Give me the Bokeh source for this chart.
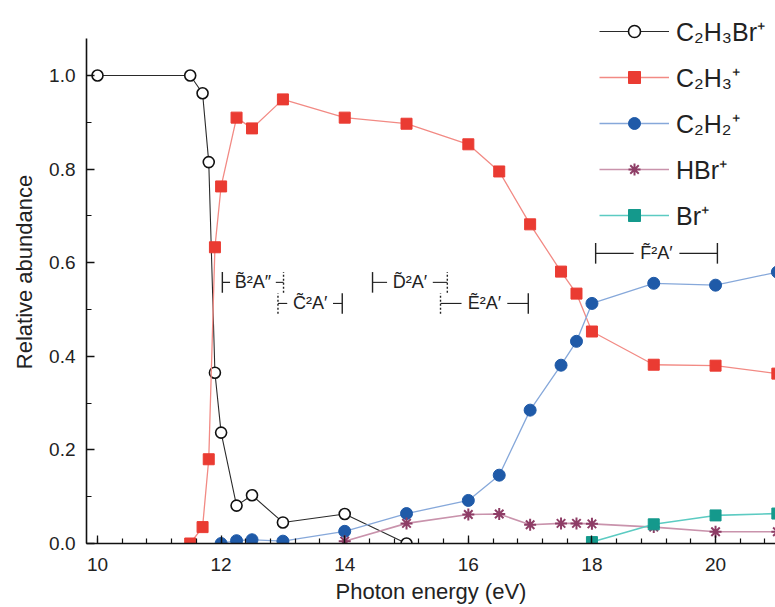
from bokeh.plotting import figure
from bokeh.models import (ColumnDataSource, Legend, LegendItem, SingleIntervalTicker,
                          Range1d, NumeralTickFormatter)
from bokeh.embed import file_html
from bokeh.resources import INLINE
from bokeh.core.properties import value

# ---------------- data ----------------
e_c2h3br = [10, 11.5, 11.7, 11.8, 11.9, 12.0, 12.25, 12.5, 13, 14, 15]
y_c2h3br = [1.0, 1.0, 0.962, 0.815, 0.365, 0.237, 0.081, 0.103, 0.045, 0.063, 0.0]

e_c2h3 = [11.5, 11.7, 11.8, 11.9, 12.0, 12.25, 12.5, 13, 14, 15, 16, 16.5, 17, 17.5, 17.75, 18, 19, 20, 21]
y_c2h3 = [0.0, 0.035, 0.18, 0.633, 0.763, 0.91, 0.887, 0.949, 0.91, 0.897, 0.853, 0.795, 0.682, 0.581,
          0.534, 0.453, 0.382, 0.38, 0.363]

e_c2h2 = [12.0, 12.25, 12.5, 13, 14, 15, 16, 16.5, 17, 17.5, 17.75, 18, 19, 20, 21]
y_c2h2 = [0.0, 0.006, 0.008, 0.005, 0.026, 0.064, 0.092, 0.146, 0.285, 0.381, 0.432, 0.513, 0.556, 0.552, 0.58]

e_hbr = [14, 15, 16, 16.5, 17, 17.5, 17.75, 18, 19, 20, 21]
y_hbr = [0.005, 0.043, 0.062, 0.063, 0.04, 0.043, 0.043, 0.042, 0.035, 0.025, 0.025]

e_br = [18, 19, 20, 21]
y_br = [0.003, 0.041, 0.06, 0.064]

series_labels = ["C₂H₃Br⁺", "C₂H₃⁺", "C₂H₂⁺", "HBr⁺", "Br⁺"]

states = ["B\u0303²A″", "C\u0303²A′", "D\u0303²A′", "E\u0303²A′", "F\u0303²A′"]
state_lo = [12.02, 12.92, 14.45, 15.55, 18.06]
state_hi = [13.01, 13.96, 15.66, 16.97, 20.03]
state_y = [0.558, 0.513, 0.558, 0.513, 0.62]
state_lo_dotted = [False, True, False, True, False]
state_hi_dotted = [True, False, True, False, False]

FONT = "Liberation Sans"

p = figure(width=775, height=607, output_backend="svg", toolbar_location=None,
           x_range=Range1d(9.822, 20.97), y_range=Range1d(0, 1.1603),
           min_border_left=86, min_border_right=0, min_border_top=0, min_border_bottom=64)
p.outline_line_color = None
p.grid.visible = False
p.background_fill_color = "white"
p.border_fill_color = "white"

# axes
p.xaxis.ticker = SingleIntervalTicker(interval=2, num_minor_ticks=5)
p.yaxis.ticker = SingleIntervalTicker(interval=0.2, num_minor_ticks=2)
p.yaxis.formatter = NumeralTickFormatter(format="0.0")
p.yaxis.bounds = (0, 1.08)
for ax in (p.xaxis, p.yaxis):
    ax.axis_line_width = 1.6
    ax.axis_line_color = "#111111"
    ax.major_tick_in = 8
    ax.major_tick_out = 0
    ax.minor_tick_in = 5
    ax.minor_tick_out = 0
    ax.major_tick_line_color = "#111111"
    ax.minor_tick_line_color = "#111111"
    ax.major_tick_line_width = 1.3
    ax.minor_tick_line_width = 1.2
    ax.major_label_text_font = FONT
    ax.major_label_text_font_size = "19px"
    ax.major_label_text_color = "#222222"
    ax.axis_label_text_font = FONT
    ax.axis_label_text_font_size = "22px"
    ax.axis_label_text_font_style = "normal"
    ax.axis_label_text_color = "#222222"
p.xaxis.axis_label = "Photon energy (eV)"
p.yaxis.axis_label = "Relative abundance"
p.xaxis.major_label_standoff = 14
p.xaxis.axis_label_standoff = 5
p.yaxis.major_label_standoff = 11
p.yaxis.axis_label_standoff = 9

# series
r1l = p.line(e_c2h3br, y_c2h3br, line_color="#2a2a2a", line_width=1.1)
r1m = p.scatter(e_c2h3br, y_c2h3br, marker="circle", size=11, fill_color="white",
                line_color="#111111", line_width=1.6)

r2l = p.line(e_c2h3, y_c2h3, line_color="#F28A84", line_width=1.3)
r2m = p.scatter(e_c2h3, y_c2h3, marker="square", size=11, fill_color="#EA3B32",
                line_color="#EA3B32")

r3l = p.line(e_c2h2, y_c2h2, line_color="#86A8DA", line_width=1.3)
r3m = p.scatter(e_c2h2, y_c2h2, marker="circle", size=12, fill_color="#1F5AA8",
                line_color="#1F5AA8")

r4l = p.line(e_hbr, y_hbr, line_color="#C993AC", line_width=1.6)
r4m = p.scatter(e_hbr, y_hbr, marker="asterisk", size=12, line_color="#8E3D66",
                line_width=2)

r5l = p.line(e_br, y_br, line_color="#5CCBC2", line_width=1.6)
r5m = p.scatter(e_br, y_br, marker="square", size=11, fill_color="#14998C",
                line_color="#14998C")

items = [LegendItem(label=series_labels[0], renderers=[r1l, r1m]),
         LegendItem(label=series_labels[1], renderers=[r2l, r2m]),
         LegendItem(label=series_labels[2], renderers=[r3l, r3m]),
         LegendItem(label=series_labels[3], renderers=[r4l, r4m]),
         LegendItem(label=series_labels[4], renderers=[r5l, r5m])]
legend = Legend(items=items, location=(513, 311), orientation="vertical",
                glyph_width=70, glyph_height=30, label_height=30, spacing=12,
                padding=5, margin=0, label_standoff=7,
                label_text_font=FONT, label_text_font_size="25px",
                label_text_color="#222222",
                border_line_color=None, background_fill_alpha=0)
p.add_layout(legend)

# electronic state annotations
gap = 0.37
mid = [(a + b) / 2 for a, b in zip(state_lo, state_hi)]
seg = dict(x0=[], y0=[], x1=[], y1=[])
for lo, hi, m, y in zip(state_lo, state_hi, mid, state_y):
    seg["x0"] += [lo, m + gap]
    seg["x1"] += [m - gap, hi]
    seg["y0"] += [y, y]
    seg["y1"] += [y, y]
p.segment(x0="x0", y0="y0", x1="x1", y1="y1", source=ColumnDataSource(seg),
          line_color="#222222", line_width=1.1)

solid = dict(x0=[], y0=[], x1=[], y1=[])
dotted = dict(x0=[], y0=[], x1=[], y1=[])
for lo, hi, y, dlo, dhi in zip(state_lo, state_hi, state_y, state_lo_dotted, state_hi_dotted):
    for xe, d in ((lo, dlo), (hi, dhi)):
        tgt = dotted if d else solid
        tgt["x0"].append(xe)
        tgt["x1"].append(xe)
        tgt["y0"].append(y - 0.022)
        tgt["y1"].append(y + 0.022)
p.segment(x0="x0", y0="y0", x1="x1", y1="y1", source=ColumnDataSource(solid),
          line_color="#222222", line_width=1.4)
p.segment(x0="x0", y0="y0", x1="x1", y1="y1", source=ColumnDataSource(dotted),
          line_color="#222222", line_width=1.4, line_dash="2 2")

p.text(x=mid, y=state_y, text=states, text_font=value(FONT), text_font_size="18px",
       text_color="#222222", text_align="center", text_baseline="middle")

with open("out.html", "w") as f:
    f.write(file_html(p, INLINE))
